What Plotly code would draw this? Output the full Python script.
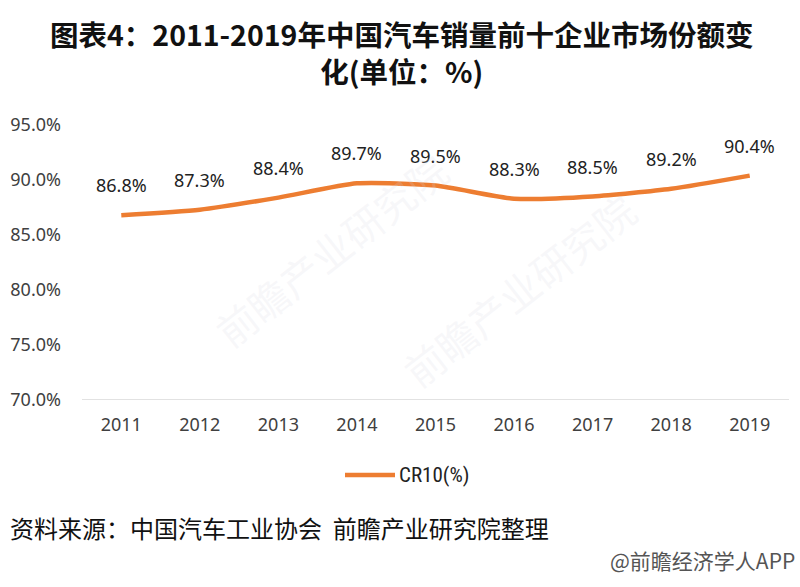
import plotly.graph_objects as go

years = ["2011", "2012", "2013", "2014", "2015", "2016", "2017", "2018", "2019"]
cr10 = [86.8, 87.3, 88.4, 89.7, 89.5, 88.3, 88.5, 89.2, 90.4]
y_ticks = [70, 75, 80, 85, 90, 95]
y_tick_text = ["70.0%", "75.0%", "80.0%", "85.0%", "90.0%", "95.0%"]
series_name = "CR10(%)"
title_line1 = "图表4：2011-2019年中国汽车销量前十企业市场份额变"
title_line2 = "化(单位：%)"
source_text = "资料来源：中国汽车工业协会  前瞻产业研究院整理"
credit_text = "@前瞻经济学人APP"

ORANGE = "#ED7D31"
TICK = "#404040"
FONT = "Noto Sans, Open Sans, sans-serif"
CJK = "Noto Sans CJK SC"

L, R, T, B = 82, 11, 125, 187
W, H = 800, 587
plot_w = W - L - R
plot_h = H - T - B


def px(xp):
    return (xp - L) / plot_w


def py(yp):
    return (H - B - yp) / plot_h


fig = go.Figure()
fig.add_trace(go.Scatter(
    x=years, y=cr10, mode="lines", name=series_name,
    line=dict(color=ORANGE, width=4.5, shape="spline", smoothing=0.6),
    showlegend=False,
))

annotations = []
for i, v in enumerate(cr10):
    annotations.append(dict(
        x=i, y=v, xref="x", yref="y", text=f"{v:.1f}%", showarrow=False,
        yshift=30, font=dict(family=FONT, size=18, color="#222222"),
    ))

# faint watermarks
for (wx, wy) in [(px(200), py(250)), (px(650), py(290))]:
    annotations.append(dict(
        x=wx, y=wy, xref="paper", yref="paper", text="前瞻产业研究院", showarrow=False,
        textangle=-38, font=dict(family=CJK, size=40, color="rgba(215,215,228,0.2)"),
    ))

annotations.append(dict(
    x=px(401), y=py(52), xref="paper", yref="paper", xanchor="center", yanchor="middle",
    text=f"<b>{title_line1}</b><br><b>{title_line2}</b>", showarrow=False, align="center",
    font=dict(family=CJK, size=28.5, color="#111111"),
))
annotations.append(dict(
    x=px(8), y=py(527), xref="paper", yref="paper", xanchor="left", yanchor="middle",
    text=source_text, showarrow=False,
    font=dict(family=CJK, size=24, color="#111111"),
))
annotations.append(dict(
    x=px(797), y=py(560), xref="paper", yref="paper", xanchor="right", yanchor="middle",
    text=credit_text, showarrow=False,
    font=dict(family=CJK, size=21, color="#555555"),
))
# legend key (drawn to match the reference's long key line)
annotations.append(dict(
    x=px(397), y=py(475), xref="paper", yref="paper", xanchor="left", yanchor="middle",
    text=series_name, showarrow=False,
    font=dict(family="Liberation Sans Narrow, Roboto Condensed, sans-serif", size=21, color="#222222"),
))

fig.update_layout(
    width=W, height=H,
    margin=dict(l=L, r=R, t=T, b=B, autoexpand=False),
    paper_bgcolor="white", plot_bgcolor="white",
    xaxis=dict(
        type="category", range=[-0.5, 8.5], showgrid=False, zeroline=False,
        showline=False, ticks="", ticklabelstandoff=12,
        tickfont=dict(family=FONT, size=18, color=TICK),
    ),
    yaxis=dict(
        range=[70, 95], tickvals=y_ticks, ticktext=y_tick_text,
        showgrid=False, zeroline=False, showline=False, ticks="",
        ticklabelstandoff=20,
        tickfont=dict(family=FONT, size=18, color=TICK),
    ),
    showlegend=False,
    shapes=[
        dict(type="line", xref="paper", yref="y", x0=0, x1=1, y0=70, y1=70,
             line=dict(color="#d9d9d9", width=1.5)),
        dict(type="line", xref="paper", yref="paper", x0=px(345), x1=px(395),
             y0=py(475), y1=py(475), line=dict(color=ORANGE, width=4.5)),
    ],
    annotations=annotations,
)

fig.write_html("out.html", config={"displayModeBar": False},
               post_script="document.body.style.margin='0';document.body.style.padding='0';")
